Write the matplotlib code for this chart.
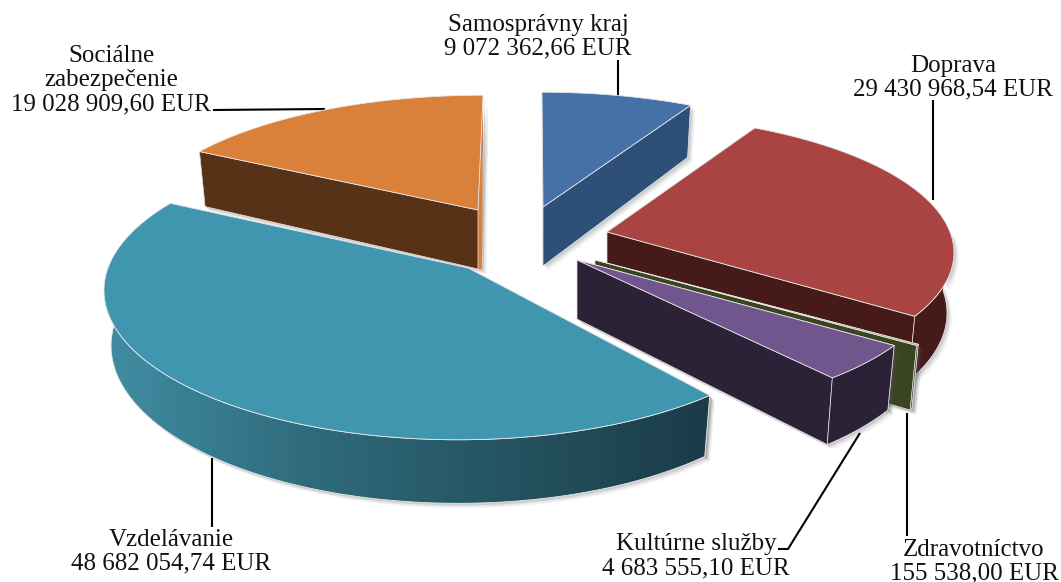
"""Exploded 3D-style pie chart of budget spending by sector."""

import numpy as np
import matplotlib.pyplot as plt
from matplotlib.colors import LinearSegmentedColormap
from matplotlib.patches import Polygon

categories = ["Samosprávny kraj", "Doprava", "Zdravotníctvo", "Kultúrne služby", "Vzdelávanie", "Sociálne\nzabezpečenie"]
values = [9072362.66, 29430968.54, 155538.00, 4683555.10, 48682054.74, 19028909.60]

top_colors = ["#4571a6", "#a94443", "#8fa65c", "#71568e", "#4096ae", "#d9803b"]
wall_colors = ["#2e5078", "#451a18", "#3a4520", "#2c2238", "#1a3b47", "#573216"]

# per slice geometry in pixels: where the tip sits, centre of the arc, radii, wall height
tips = [(543, 207), (607, 232), (595, 260), (577, 260), (468, 268), (478, 210)]
arc_centres = [(542, 207), (605, 232), (595, 260), (577, 260), (458, 268), (483, 210)]
radius_x = [342, 345, 360, 355, 350, 345]
radius_y = [132, 135, 135, 135, 146, 132]
depths = [59, 59, 59, 59, 54, 59]
PERSPECTIVE = 0.15  # the far side of the pie shrinks, the near side grows
WALL_TILT = 0.98    # bottom rims are a bit narrower than the top rims

# text block centre x and the baseline y of each of its lines
label_x = [538, 953, 974, 696, 171, 111]
label_baselines = [[31, 54], [72, 95], [556, 579], [550, 574], [546, 569], [62, 86, 110]]
leaders = [
    [(618, 60), (618, 96)],
    [(933, 100), (933, 200)],
    [(907, 413), (907, 536)],
    [(778, 549), (788, 549), (860, 433)],
    [(212, 458), (212, 527)],
    [(213, 110), (325, 109)],
]


def money(v):
    return f"{v:,.2f}".replace(",", " ").replace(".", ",") + " EUR"


def rim(cx, cy, a, b, d, thetas, lower=False):
    """Project pie angles (clockwise from the top, radians) to pixels."""
    u, v = np.sin(thetas), np.cos(thetas)
    s = 1 / (1 + PERSPECTIVE * v)
    x = a * u * s
    y = -b * v * s
    if lower:
        return np.column_stack([cx + x * WALL_TILT, cy + y + d * s])
    return np.column_stack([cx + x, cy + y])


def shadow(ax, pts, zorder):
    for off, alpha in [(5, 0.06), (3.5, 0.1), (2, 0.16)]:
        ax.add_patch(Polygon(pts + off, closed=True, fc="#555555", ec="none", alpha=alpha, zorder=zorder))


fig = plt.figure(figsize=(10.61, 5.82), dpi=100)
ax = fig.add_axes([0, 0, 1, 1])

plt.rcParams["font.family"] = ["Liberation Serif", "DejaVu Serif"]

fractions = np.array(values) / sum(values)
edges = np.concatenate([[0], np.cumsum(fractions)]) * 2 * np.pi

# drawing order, back to front
order = [5, 0, 1, 2, 3, 4]
rim_col = "#e8e8e8"

for z, i in enumerate(order):
    z = z * 10 + 2
    t0, t1 = edges[i], edges[i + 1]
    tx, ty = tips[i]
    cx, cy = arc_centres[i]
    a, b, d = radius_x[i], radius_y[i], depths[i]
    thetas = np.linspace(t0, t1, 120)
    top = rim(cx, cy, a, b, d, thetas)
    tip = np.array([[tx, ty]])
    tip_low = np.array([[tx, ty + d]])

    # outer wall, only the part that faces the viewer
    lo, hi = max(t0, np.pi / 2), min(t1, 3 * np.pi / 2)
    wall_pts = None
    if hi > lo:
        front = np.linspace(lo, hi, 100)
        wall_pts = np.vstack([rim(cx, cy, a, b, d, front), rim(cx, cy, a, b, d, front, lower=True)[::-1]])

    # the two cut faces
    cuts = []
    for t, end in [(t0, top[0]), (t1, top[-1])]:
        end_low = rim(cx, cy, a, b, d, np.array([t]), lower=True)[0]
        cuts.append(np.vstack([tip, [end], [end_low], tip_low]))

    for pts in cuts + ([wall_pts] if wall_pts is not None else []):
        shadow(ax, pts, z - 1)

    for pts in cuts:
        ax.add_patch(Polygon(pts, closed=True, fc=wall_colors[i], ec=rim_col, lw=0.5, zorder=z))

    if wall_pts is not None:
        if i == 4:
            # shaded front wall of the biggest slice
            ramp = LinearSegmentedColormap.from_list("wall", ["#418da3", "#2f6b7d", "#255361", "#1a3b47"])
            clip = Polygon(wall_pts, closed=True, fc="none", ec=rim_col, lw=0.6, zorder=z + 1)
            ax.add_patch(clip)
            im = ax.imshow(np.linspace(0, 1, 256)[None, :], cmap=ramp, aspect="auto",
                           extent=(wall_pts[:, 0].min(), wall_pts[:, 0].max(), 582, 0), zorder=z)
            im.set_clip_path(clip)
        else:
            ax.add_patch(Polygon(wall_pts, closed=True, fc=wall_colors[i], ec=rim_col, lw=0.5, zorder=z))

    # thin sliver of the top colour on the back cut of the orange slice
    if i == 5:
        sliver = np.vstack([tip, [top[-1]], tip_low + [4, 0], tip_low])
        shadow(ax, sliver, z - 1)
        ax.add_patch(Polygon(sliver, closed=True, fc=top_colors[i], ec="none", zorder=z))
        ax.add_patch(Polygon(cuts[0], closed=True, fc=wall_colors[i], ec=rim_col, lw=0.5, zorder=z))

    ax.add_patch(Polygon(np.vstack([tip, top]), closed=True, fc=top_colors[i], ec=rim_col, lw=0.6, zorder=z + 2))

for pts in leaders:
    pts = np.array(pts)
    ax.plot(pts[:, 0], pts[:, 1], color="black", lw=1.5, solid_capstyle="butt", zorder=1 if len(pts) == 2 else 100)

for i, name in enumerate(categories):
    lines = name.split("\n") + [money(values[i])]
    for line, y in zip(lines, label_baselines[i]):
        ax.text(label_x[i], y, line, ha="center", va="baseline", fontsize=18, color="#111111", zorder=200)

ax.set_xlim(0, 1061)
ax.set_ylim(582, 0)
ax.axis("off")
fig.savefig("out.png", dpi=100)
